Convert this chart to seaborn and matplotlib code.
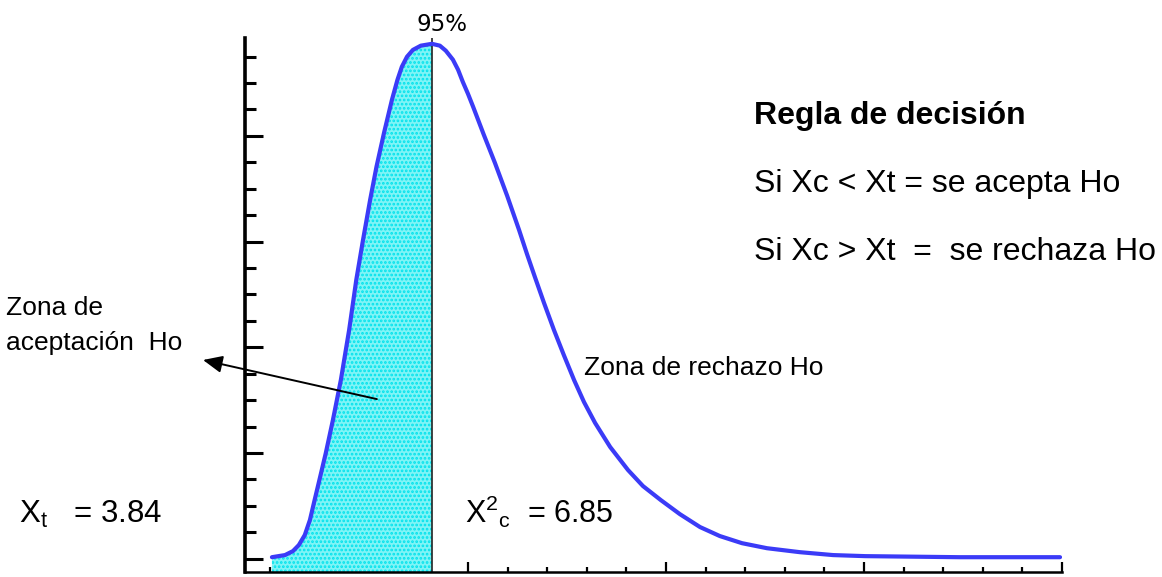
import numpy as np
import pandas as pd
import matplotlib
matplotlib.use("Agg")
import matplotlib.pyplot as plt
from matplotlib.ticker import FixedLocator
import seaborn as sns

# curve (x and y in minor-tick units)
curve_x = [0.05, 0.38, 0.58, 0.73, 0.88, 1.01, 1.11, 1.26, 1.41, 1.59, 1.79, 2.00,
           2.18, 2.35, 2.53, 2.69, 2.88, 3.08, 3.22, 3.33, 3.46, 3.61, 3.81, 4.09,
           4.29, 4.44, 4.62, 4.75, 4.87, 5.00, 5.13, 5.40, 5.68, 5.99, 6.29, 6.49,
           6.69, 6.92, 7.17, 7.42, 7.68, 7.93, 8.21, 8.59, 9.04, 9.42, 9.87, 10.35,
           10.86, 11.36, 11.92, 12.55, 13.38, 14.22, 15.03, 17.42, 19.95]
curve_y = [0.06, 0.14, 0.29, 0.52, 0.90, 1.47, 2.11, 3.05, 4.00, 5.25, 6.76, 8.66,
           10.55, 12.06, 13.58, 14.83, 16.11, 17.36, 18.12, 18.61, 18.99, 19.25, 19.41, 19.48,
           19.41, 19.22, 18.88, 18.50, 18.04, 17.59, 17.10, 16.04, 14.98, 13.73, 12.44, 11.53,
           10.66, 9.68, 8.66, 7.71, 6.76, 5.93, 5.14, 4.23, 3.36, 2.75, 2.22, 1.69,
           1.20, 0.86, 0.59, 0.40, 0.25, 0.14, 0.10, 0.06, 0.06]
cut_x = 4.09  # 95% line

x_major = [5, 10, 15, 20]
x_minor = [i for i in range(0, 21) if i % 5 != 0] + [0]
y_major = [0, 4, 8, 12, 16]
y_minor = [i for i in range(0, 20) if i % 4 != 0]

df = pd.DataFrame({"x": curve_x, "y": curve_y})

sns.set_style("ticks")
plt.rcParams['font.family'] = ['Liberation Sans', 'DejaVu Sans']
plt.rcParams['text.color'] = 'black'
plt.rcParams['hatch.linewidth'] = 1.3

W, H = 1162, 577
fig = plt.figure(figsize=(W / 100, H / 100), dpi=100)
ax = fig.add_axes([245 / W, 5 / H, (1062 - 245) / W, (572 - 38) / H])

# shaded acceptance zone
acc = df[df["x"] <= cut_x]
ax.fill_between(acc["x"], acc["y"], -0.5, facecolor="#80f4f6", edgecolor="#00e2ec",
                hatch="....", linewidth=0, zorder=1)

sns.lineplot(data=df, x="x", y="y", ax=ax, color="#3b3bf7", linewidth=3.0, zorder=3)
ax.lines[-1].set_solid_joinstyle("round")
ax.axvline(cut_x, color="#222222", linewidth=1.2, zorder=2)

ax.set_xlim(-0.63, 20)
ax.set_ylim(-0.5, 19.7)
ax.set_xlabel("")
ax.set_ylabel("")

ax.xaxis.set_major_locator(FixedLocator(x_major))
ax.xaxis.set_minor_locator(FixedLocator(x_minor))
ax.yaxis.set_major_locator(FixedLocator(y_major))
ax.yaxis.set_minor_locator(FixedLocator(y_minor))
ax.tick_params(axis="y", which="major", direction="in", length=13, width=2.2,
               color="black", labelleft=False)
ax.tick_params(axis="y", which="minor", direction="in", length=8, width=2.2, color="black")
ax.tick_params(axis="x", which="major", direction="in", length=7, width=1.6,
               color="black", labelbottom=False)
ax.tick_params(axis="x", which="minor", direction="in", length=3.5, width=1.6, color="black")

sns.despine(ax=ax)
ax.spines["left"].set_linewidth(2.6)
ax.spines["bottom"].set_linewidth(1.8)
ax.spines["left"].set_color("black")
ax.spines["bottom"].set_color("black")

# arrow to the acceptance label
ax.annotate("", xy=(-1.69, 7.52), xytext=(2.70, 6.04),
            arrowprops=dict(arrowstyle="-|>,head_length=0.45,head_width=0.2",
                            color="black", lw=1.4, mutation_scale=26,
                            shrinkA=0, shrinkB=0),
            annotation_clip=False, zorder=4)


def ftext(px, py, s, **kw):
    fig.text(px / W, 1 - py / H, s, va="baseline", **kw)


ftext(442, 31, "95%", ha="center", fontsize=16.5, family="DejaVu Sans")
ftext(754, 124, "Regla de decisión", fontsize=23, fontweight="bold")
ftext(754, 192, "Si Xc < Xt = se acepta Ho", fontsize=23)
ftext(754, 260, "Si Xc > Xt  =  se rechaza Ho", fontsize=23)
ftext(584, 375, "Zona de rechazo Ho", fontsize=19)
ftext(6, 315, "Zona de", fontsize=19)
ftext(6, 350, "aceptación  Ho", fontsize=19)
ftext(19, 523, r"X$_{\mathregular{t}}$   = 3.84", fontsize=22.5)
ftext(465, 523, r"X$^{\mathregular{2}}$$_{\mathregular{c}}$  = 6.85", fontsize=22)

fig.savefig("out.png", dpi=100)
